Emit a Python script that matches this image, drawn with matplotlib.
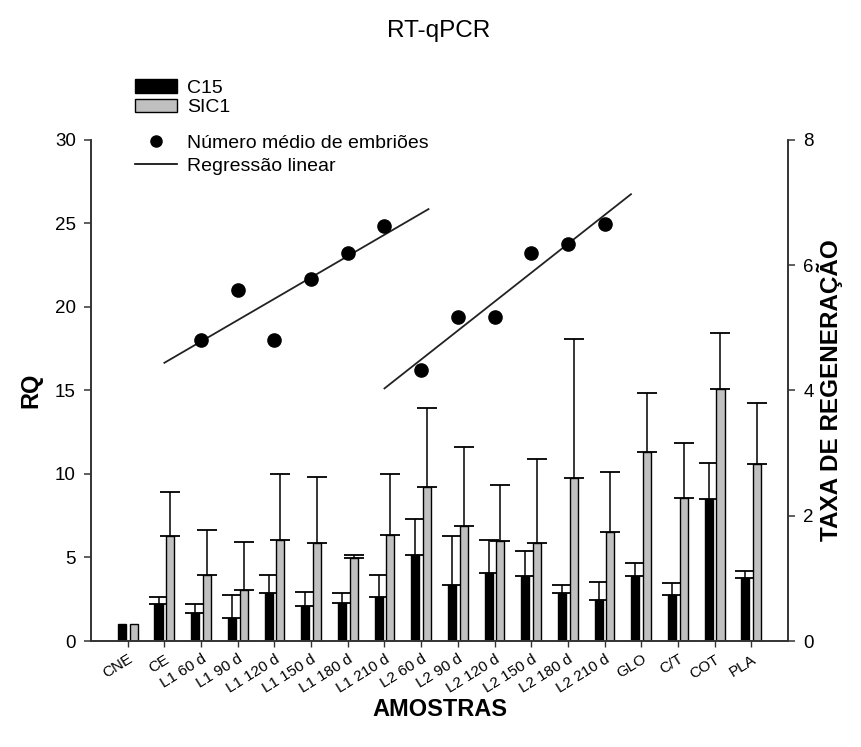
import numpy as np
import matplotlib

matplotlib.use("Agg")
import matplotlib.pyplot as plt
from matplotlib.patches import Patch
from matplotlib.lines import Line2D

plt.rcParams["font.family"] = ["Liberation Sans", "DejaVu Sans"]

samples = ["CNE", "CE", "L1 60 d", "L1 90 d", "L1 120 d", "L1 150 d", "L1 180 d",
           "L1 210 d", "L2 60 d", "L2 90 d", "L2 120 d", "L2 150 d", "L2 180 d",
           "L2 210 d", "GLO", "C/T", "COT", "PLA"]

# RQ values (left axis) and upper error bar tops
c15 = [1.0, 2.2, 1.65, 1.4, 2.9, 2.1, 2.25, 2.62, 5.15, 3.35, 4.1, 3.9, 2.9, 2.45,
       3.9, 2.75, 8.5, 3.8]
c15_top = [1.0, 2.63, 2.2, 2.75, 3.95, 2.93, 2.9, 3.97, 7.3, 6.3, 6.07, 5.39, 3.35,
           3.55, 4.7, 3.5, 10.67, 4.21]
sic1 = [1.0, 6.3, 3.95, 3.05, 6.03, 5.85, 4.97, 6.35, 9.2, 6.9, 5.97, 5.85, 9.74,
        6.55, 11.33, 8.54, 15.09, 10.58]
sic1_top = [1.0, 8.9, 6.67, 5.93, 10.0, 9.8, 5.15, 10.0, 13.93, 11.6, 9.36, 10.9,
            18.1, 10.13, 14.83, 11.87, 18.44, 14.27]

# mean number of embryos (right axis)
emb1_x = [2, 3, 4, 5, 6, 7]
emb1_y = [4.8, 5.6, 4.8, 5.78, 6.2, 6.63]
emb2_x = [8, 9, 10, 11, 12, 13]
emb2_y = [4.33, 5.18, 5.18, 6.2, 6.34, 6.66]
fit1_range = [1.0, 8.2]
fit2_range = [7.0, 13.72]

x = np.arange(len(samples))
c15 = np.array(c15)
sic1 = np.array(sic1)

fig = plt.figure(figsize=(8.61, 7.47), dpi=100)
ax = fig.add_axes([0.1057, 0.1419, 0.8095, 0.6707])
ax2 = ax.twinx()

w = 0.22
off = 0.16
err_kw = dict(fmt="none", ecolor="black", elinewidth=1.1, capsize=7, capthick=1.3, zorder=1)
ax.bar(x - off, c15, w, color="black", edgecolor="black", linewidth=1, zorder=2)
ax.bar(x + off, sic1, w, color="#c0c0c0", edgecolor="black", linewidth=1, zorder=2)
for pos, vals, tops in [(x - off, c15, np.array(c15_top)), (x + off, sic1, np.array(sic1_top))]:
    m = tops > vals  # CNE has no error bar
    ax.errorbar(pos[m], vals[m], yerr=[np.zeros(m.sum()), (tops - vals)[m]], **err_kw)

# regression lines on the embryo counts
for ex, ey, rng in [(emb1_x, emb1_y, fit1_range), (emb2_x, emb2_y, fit2_range)]:
    k, b = np.polyfit(ex, ey, 1)
    xr = np.array(rng)
    ax2.plot(xr, k * xr + b, color="#222222", linewidth=1.3)
    ax2.plot(ex, ey, "o", color="black", markersize=9.5)

ax.set_xlim(-1, 18)
ax.set_ylim(0, 30)
ax2.set_ylim(0, 8)
ax.set_yticks([0, 5, 10, 15, 20, 25, 30])
ax2.set_yticks([0, 2, 4, 6, 8])
ax.set_xticks(x)
ax.set_xticklabels(samples, rotation=32, ha="right", rotation_mode="anchor", fontsize=11)

for a in (ax, ax2):
    a.spines["top"].set_visible(False)
    for s in a.spines.values():
        s.set_linewidth(1.2)
        s.set_color("#333333")
    a.tick_params(axis="y", labelsize=13.5, length=5, width=1.1, color="#333333", pad=6)
ax.tick_params(axis="x", length=4, width=1, color="#333333", pad=4)

ax.set_ylabel("RQ", fontsize=17, fontweight="bold", labelpad=9)
ax.set_xlabel("AMOSTRAS", fontsize=17, fontweight="bold", labelpad=2)
ax2.set_ylabel("TAXA DE REGENERAÇÃO", fontsize=17.5, fontweight="bold", labelpad=2)
fig.text(0.51, 0.958, "RT-qPCR", ha="center", va="center", fontsize=17.5)

bar_handles = [Patch(facecolor="black", edgecolor="black", label="C15"),
               Patch(facecolor="#c0c0c0", edgecolor="black", label="SIC1")]
fig.legend(handles=bar_handles, loc="upper left", bbox_to_anchor=(0.145, 0.907),
           frameon=False, fontsize=14, handlelength=2.2, handleheight=0.7,
           labelspacing=0.1, handletextpad=0.5, borderpad=0)
line_handles = [Line2D([0], [0], marker="o", linestyle="", color="black", markersize=8,
                       label="Número médio de embriões"),
                Line2D([0], [0], color="black", linewidth=1.2, label="Regressão linear")]
fig.legend(handles=line_handles, loc="upper left", bbox_to_anchor=(0.145, 0.833),
           frameon=False, fontsize=14, handlelength=2.2, labelspacing=0.25,
           handletextpad=0.5, borderpad=0)

fig.savefig("out.png", dpi=100)
